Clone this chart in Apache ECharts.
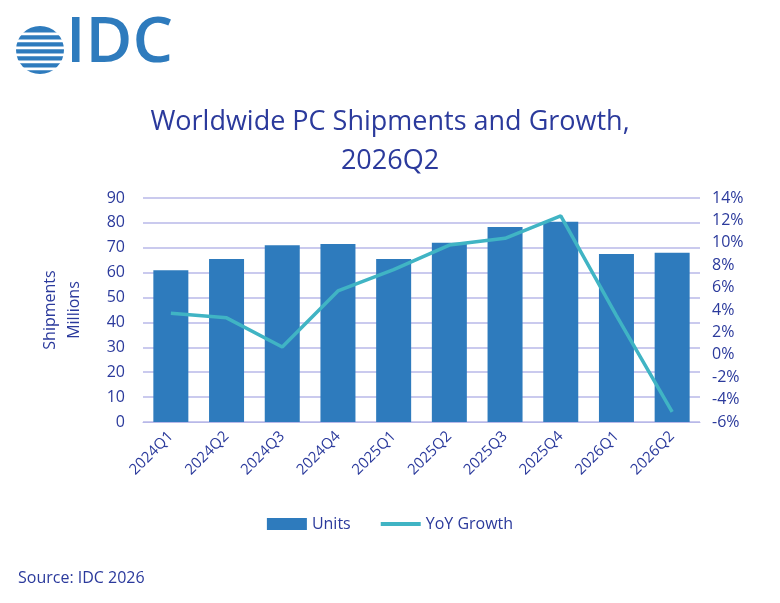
<!DOCTYPE html>
<html><head><meta charset="utf-8">
<script src="https://cdn.jsdelivr.net/npm/echarts@6/dist/echarts.min.js"></script>
<style>html,body{margin:0;background:#fff}#c{width:780px;height:603px}</style>
</head><body><div id="c"></div>
<script>
const categories = ['2024Q1','2024Q2','2024Q3','2024Q4','2025Q1','2025Q2','2025Q3','2025Q4','2026Q1','2026Q2'];
const units = [61, 65.5, 71, 71.5, 65.5, 72, 78.3, 80.5, 67.5, 68];
const yoy = [3.7, 3.3, 0.7, 5.7, 7.6, 9.8, 10.4, 12.4, 3.5, -5.1];
const txt = '#2b3a9c';
const chart = echarts.init(document.getElementById('c'));
chart.setOption({
  animation:false,
  graphic:[
    {type:'group',left:16,top:26,children:[
      {type:'circle',shape:{cx:24,cy:24,r:24},style:{fill:'#2e7bbd'}},
      {type:'rect',shape:{x:0,y:6.5,width:48,height:2.8},style:{fill:'#fff'}},
      {type:'rect',shape:{x:0,y:13.5,width:48,height:2.8},style:{fill:'#fff'}},
      {type:'rect',shape:{x:0,y:20.5,width:48,height:2.8},style:{fill:'#fff'}},
      {type:'rect',shape:{x:0,y:27.5,width:48,height:2.8},style:{fill:'#fff'}},
      {type:'rect',shape:{x:0,y:34.5,width:48,height:2.8},style:{fill:'#fff'}},
      {type:'rect',shape:{x:0,y:41.5,width:48,height:2.8},style:{fill:'#fff'}}
    ]},
    {type:'text',left:66,top:12,style:{text:'IDC',font:'600 64px "Open Sans"',fill:'#2e7bbd'}},
    {type:'text',left:18,top:570,style:{text:'Source: IDC 2026',font:'16px "Open Sans"',fill:txt}},
    {type:'text',x:50,y:310,rotation:Math.PI/2,style:{text:'Shipments',font:'16px "Open Sans"',fill:txt,align:'center',verticalAlign:'middle'}},
    {type:'text',x:74,y:310,rotation:Math.PI/2,style:{text:'Millions',font:'16px "Open Sans"',fill:txt,align:'center',verticalAlign:'middle'}}
  ],
  title:{text:'Worldwide PC Shipments and Growth,\n2026Q2',left:'center',top:98,
    textStyle:{fontFamily:'Open Sans',fontSize:27,fontWeight:'normal',color:txt,lineHeight:39}},
  legend:{bottom:66,left:'center',itemGap:30,textStyle:{fontFamily:'Open Sans',fontSize:16,color:txt},
    data:[{name:'Units',icon:'rect'},{name:'YoY Growth',icon:'path://M0,0H40V4H0Z'}],itemWidth:40,itemHeight:12},
  grid:{left:143,right:80,top:198,bottom:181},
  xAxis:{type:'category',data:categories,axisTick:{show:false},
    axisLine:{lineStyle:{color:'#b8b8e8'}},
    axisLabel:{rotate:45,fontFamily:'Open Sans',fontSize:15,color:txt,margin:12}},
  yAxis:[
    {type:'value',min:0,max:90,interval:10,axisLabel:{fontFamily:'Open Sans',fontSize:16,color:txt,margin:18},
     splitLine:{lineStyle:{color:'#b8b8e8',width:1.5}}},
    {type:'value',min:-6,max:14,interval:2,axisLabel:{formatter:'{value}%',fontFamily:'Open Sans',fontSize:16,color:txt,margin:12},
     splitLine:{show:false}}
  ],
  series:[
    {name:'Units',type:'bar',data:units,barWidth:35,itemStyle:{color:'#2e7bbd'}},
    {name:'YoY Growth',type:'line',yAxisIndex:1,data:yoy,symbol:'none',lineStyle:{color:'#40b4c4',width:3.5},itemStyle:{color:'#40b4c4'}}
  ]
});
</script></body></html>
